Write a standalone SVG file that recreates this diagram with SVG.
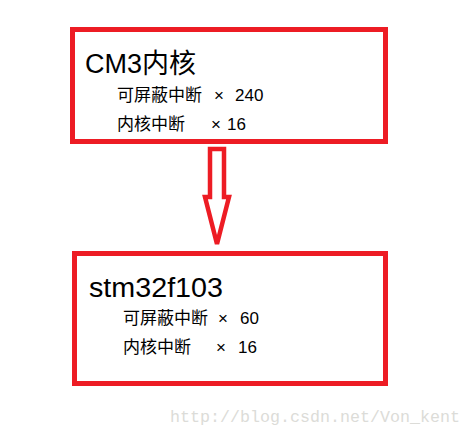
<svg xmlns="http://www.w3.org/2000/svg" width="471" height="436" viewBox="0 0 471 436">
<style>
.box{fill:none;stroke:#ed1c24;stroke-width:5}
.title{font-family:"Liberation Sans","Noto Sans CJK SC",sans-serif;font-size:27px;fill:#000}
.sub{font-family:"Noto Sans CJK SC","Liberation Sans",sans-serif;font-size:17px;fill:#000}
.num{font-family:"Liberation Sans","Noto Sans CJK SC",sans-serif;font-size:17px;fill:#000}
.wm{font-family:"Liberation Mono",monospace;font-size:16.5px;fill:#dcdcd8}
</style>
<rect width="471" height="436" fill="#fff"/>
<g id="node-cm3">
<rect class="box" x="72.5" y="29.5" width="313" height="112"/>
<text class="title" x="85" y="73">CM3<tspan font-family="'Noto Sans CJK SC',sans-serif">内核</tspan></text>
<text class="sub" x="117" y="101">可屏蔽中断</text>
<text class="num" x="214" y="101">×</text>
<text class="num" x="235" y="101">240</text>
<text class="sub" x="117" y="130">内核中断</text>
<text class="num" x="211" y="130">×</text>
<text class="num" x="227" y="130">16</text>
</g>
<g id="connectors">
<polygon points="210,149 224,149 224,197 229,197 217,244 205,197 210,197" fill="none" stroke="#ed1c24" stroke-width="4.5" stroke-linejoin="miter"/>
</g>
<g id="node-stm32">
<rect class="box" x="74.5" y="253.5" width="311" height="130"/>
<text class="title" x="89" y="297" textLength="134" lengthAdjust="spacingAndGlyphs">stm32f103</text>
<text class="sub" x="123" y="324">可屏蔽中断</text>
<text class="num" x="218" y="324">×</text>
<text class="num" x="240" y="324">60</text>
<text class="sub" x="123" y="353">内核中断</text>
<text class="num" x="216" y="353">×</text>
<text class="num" x="238" y="353">16</text>
</g>
<text class="wm" x="170" y="422" textLength="290" lengthAdjust="spacingAndGlyphs">http://blog.csdn.net/Von_kent</text>
</svg>
